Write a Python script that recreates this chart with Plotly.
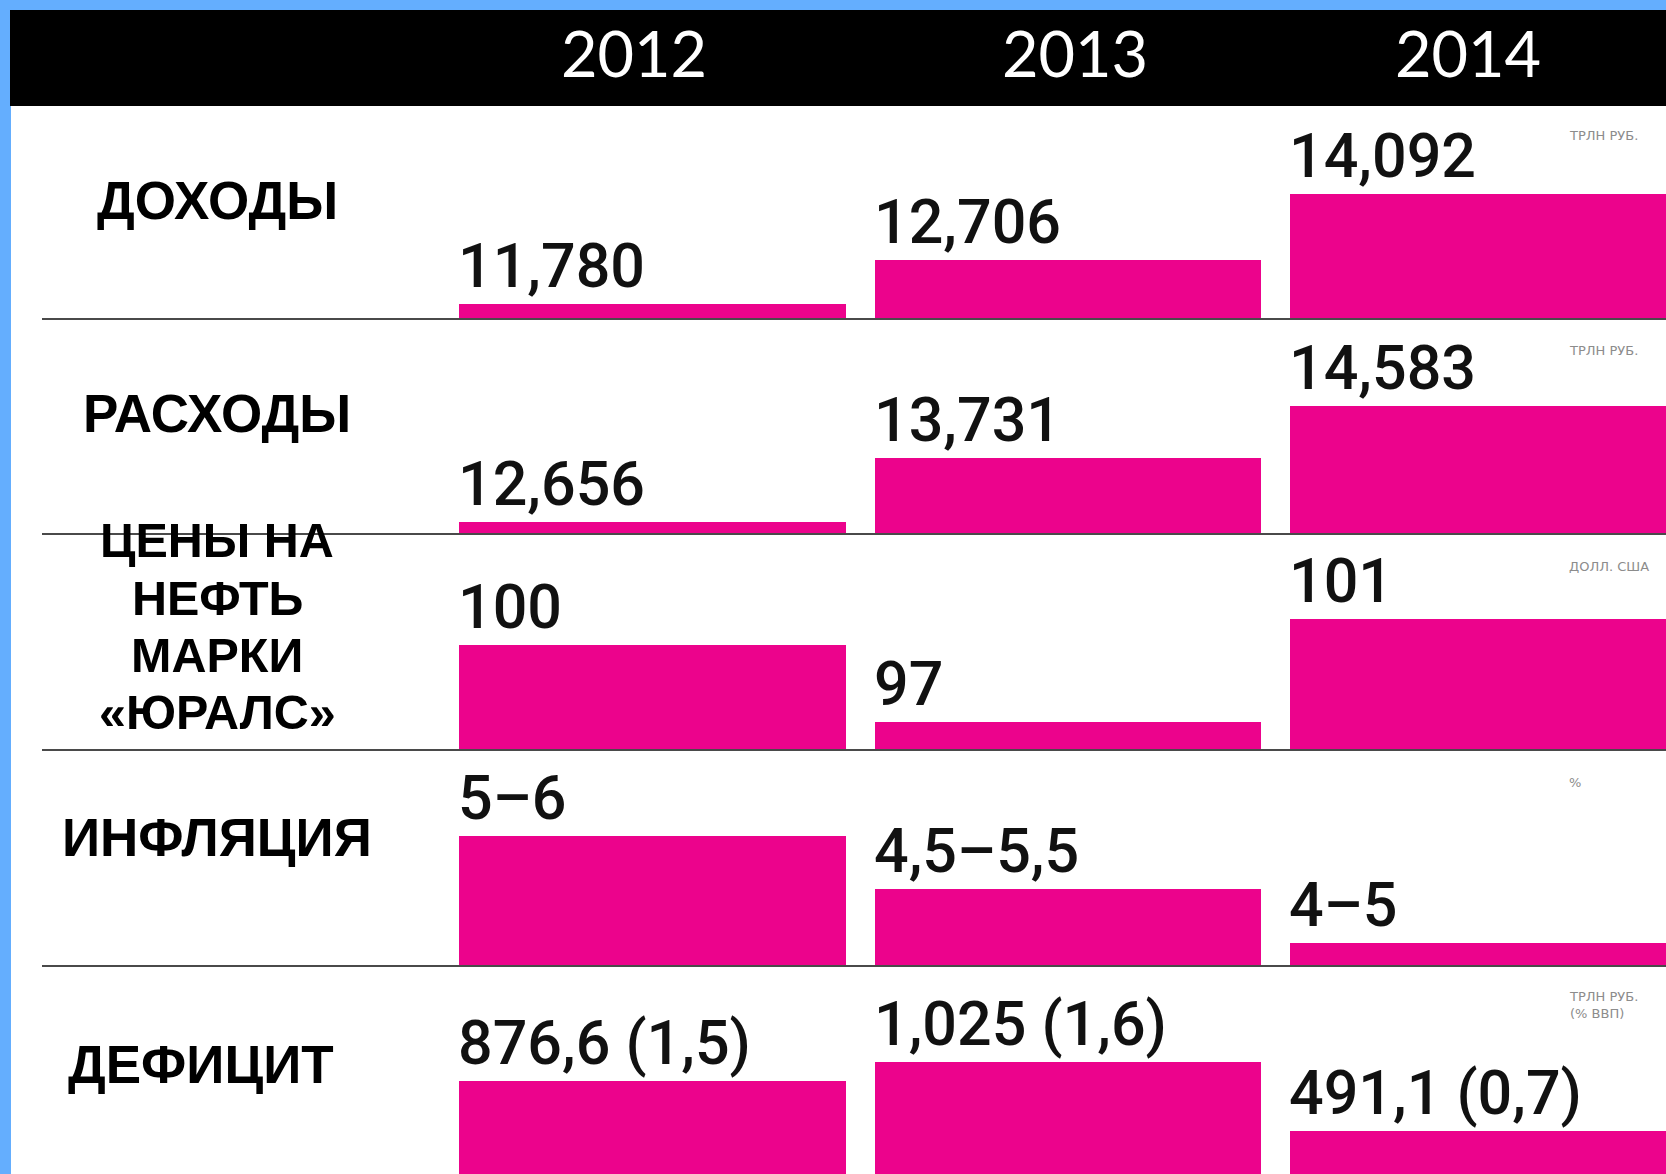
import plotly.graph_objects as go

W, H = 1666, 1174

# ---------------- data ----------------
years = ["2012", "2013", "2014"]

row_titles = [
    ["ДОХОДЫ"],
    ["РАСХОДЫ"],
    ["ЦЕНЫ НА", "НЕФТЬ", "МАРКИ", "«ЮРАЛС»"],
    ["ИНФЛЯЦИЯ"],
    ["ДЕФИЦИТ"],
]
units = ["ТРЛН РУБ.", "ТРЛН РУБ.", "ДОЛЛ. США", "%", "ТРЛН РУБ.<br>(% ВВП)"]

revenue = [11.780, 12.706, 14.092]
revenue_labels = ["11,780", "12,706", "14,092"]

spending = [12.656, 13.731, 14.583]
spending_labels = ["12,656", "13,731", "14,583"]

urals_price = [100, 97, 101]
urals_labels = ["100", "97", "101"]

inflation_mid = [5.5, 5.0, 4.5]
inflation_labels = ["5–6", "4,5–5,5", "4–5"]

deficit = [876.6, 1025.0, 491.1]
deficit_labels = ["876,6 (1,5)", "1,025 (1,6)", "491,1 (0,7)"]

series = [revenue, spending, urals_price, inflation_mid, deficit]
series_labels = [revenue_labels, spending_labels, urals_labels, inflation_labels, deficit_labels]

# ---------------- style / layout ----------------
PINK = "#EC038C"
BLUE = "#64AEFE"
LINE = "#4a4a4a"
BAR_W = 0.93
PANEL_H = 200
X_DOMAIN = [42 / W, 1.0]
X_RANGE = [-1.4693, 2.4393]

row_base_px = [318, 533, 749, 965, 1181]
row_zero = [11.496, 12.477, 95.952, 4.293, 105.2]       # value at bar-baseline of each panel (truncated axes)
row_scale = [47.92, 60.17, 25.73, 107.0, 0.1295]        # pixels per unit
title_y_px = [[200], [414], [540, 597.5, 655, 712], [837], [1064]]
title_x_px = [217, 217, 217, 217, 201]
title_size = [53, 53, 48.5, 53, 53]
year_shift = [-18, 7, -15]


def py(px):
    return 1 - px / H


fig = go.Figure()
layout = {}
annotations = []

for r in range(5):
    n = r + 1
    suf = "" if n == 1 else str(n)
    xa, ya = "x" + suf, "y" + suf
    fig.add_trace(go.Bar(
        x=[0, 1, 2], y=series[r], width=BAR_W,
        marker=dict(color=PINK, line=dict(width=0)),
        xaxis=xa, yaxis=ya, hoverinfo="skip", showlegend=False,
    ))
    base = row_base_px[r]
    bottom = min(base, H)
    top = base - PANEL_H
    lo = row_zero[r] + (base - bottom) / row_scale[r]
    hi = row_zero[r] + (base - top) / row_scale[r]
    layout["xaxis" + suf] = dict(
        domain=X_DOMAIN, range=X_RANGE, anchor=ya,
        showline=(n < 5), linecolor=LINE, linewidth=2,
        showticklabels=False, showgrid=False, zeroline=False, ticks="",
        fixedrange=True,
    )
    layout["yaxis" + suf] = dict(
        domain=[py(bottom), py(top)], range=[lo, hi], anchor=xa,
        showline=False, showticklabels=False, showgrid=False, zeroline=False,
        ticks="", fixedrange=True,
    )
    # value labels
    for i, (v, lab) in enumerate(zip(series[r], series_labels[r])):
        annotations.append(dict(
            x=i - BAR_W / 2, xref=xa, xanchor="left", xshift=-3,
            y=v, yref=ya, yanchor="bottom",
            text=lab, showarrow=False,
            font=dict(family="Roboto", size=61, color="#111111", weight=500),
        ))
    # row titles
    for line, ypx in zip(row_titles[r], title_y_px[r]):
        annotations.append(dict(
            x=title_x_px[r] / W, xref="paper", xanchor="center",
            y=py(ypx), yref="paper", yanchor="middle",
            text=line, showarrow=False,
            font=dict(family="Liberation Sans", size=title_size[r], color="#000000", weight="bold"),
        ))
    # unit notes
    uy = base - 183 if n < 5 else 1005
    annotations.append(dict(
        x=1567 / W, xref="paper", xanchor="left",
        y=py(uy), yref="paper", yanchor="middle",
        text=units[r], showarrow=False, align="left",
        font=dict(family="DejaVu Sans", size=13, color="#8c8c8c"),
    ))

# header years
for i, yr in enumerate(years):
    annotations.append(dict(
        x=i, xref="x", xanchor="center", xshift=year_shift[i],
        y=py(53), yref="paper", yanchor="middle",
        text=yr, showarrow=False,
        font=dict(family="Lato", size=63, color="#ffffff"),
    ))

shapes = [
    dict(type="rect", xref="paper", yref="paper", x0=11 / W, x1=1.0, y0=0, y1=py(106),
         fillcolor="#ffffff", line=dict(width=0), layer="below"),
    dict(type="rect", xref="paper", yref="paper", x0=10 / W, x1=1.0, y0=py(106), y1=py(10),
         fillcolor="#000000", line=dict(width=0), layer="below"),
]

fig.update_layout(
    width=W, height=H,
    margin=dict(l=0, r=0, t=0, b=0, pad=0),
    paper_bgcolor=BLUE, plot_bgcolor="rgba(0,0,0,0)",
    bargap=0, showlegend=False,
    annotations=annotations, shapes=shapes,
    **layout,
)

fig.write_html("out.html", config={"displayModeBar": False})
